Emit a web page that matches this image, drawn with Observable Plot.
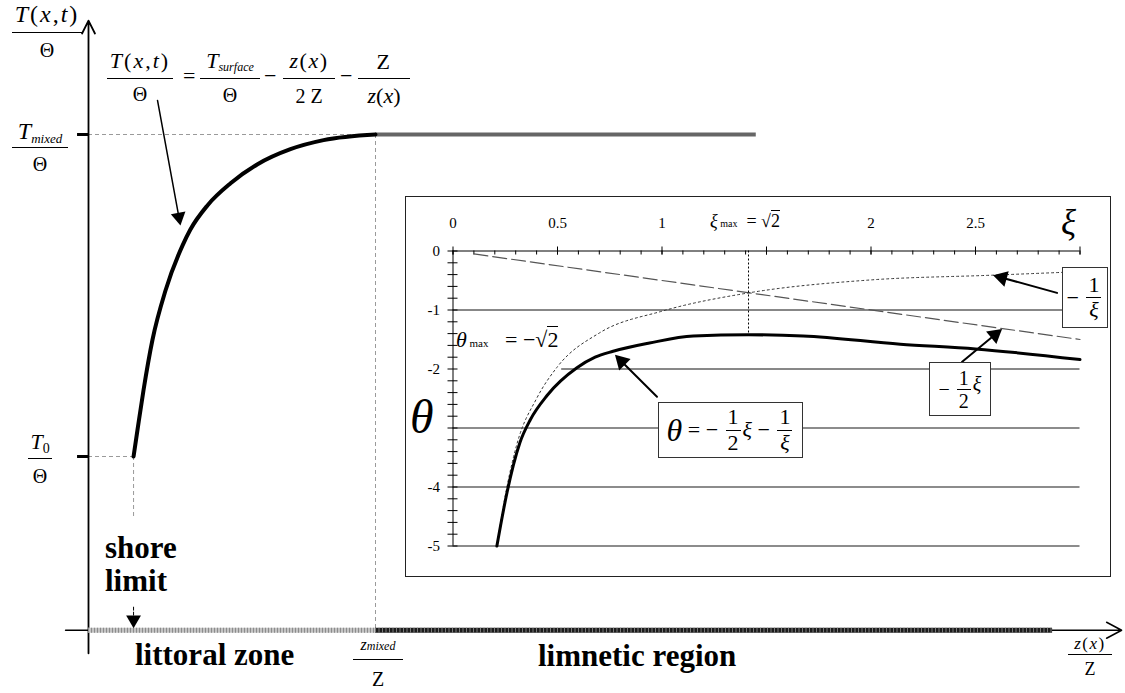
<!DOCTYPE html>
<html>
<head>
<meta charset="utf-8">
<script src="https://cdn.jsdelivr.net/npm/d3@7"></script>
<script src="https://cdn.jsdelivr.net/npm/@observablehq/plot@0.6"></script>
<style>
  html, body { margin: 0; background: #fff; }
  #fig { position: relative; width: 1125px; height: 693px; overflow: hidden;
         font-family: "Liberation Serif", "Times New Roman", serif; color: #000; background: #fff; }
  #fig svg { position: absolute; left: 0; top: 0; font-family: "Liberation Serif", serif; }
  .lab { position: absolute; white-space: nowrap; line-height: 1; }
  .bold { font-weight: bold; font-size: 31px; line-height: 31px; }
  .box { position: absolute; box-sizing: border-box; border: 1px solid #333; background: #fff;
         display: flex; align-items: center; justify-content: center; white-space: nowrap; }
  .if { display: inline-flex; flex-direction: column; align-items: center; vertical-align: middle;
        line-height: 1.1; margin: 0 2px; }
  .if > span:first-child { border-bottom: 1px solid #000; padding: 0 2px; }
  #inset { position: absolute; left: 405px; top: 196px; width: 706px; height: 381px;
           box-sizing: border-box; border: 1.5px solid #222; background: #fff; }
  sub { line-height: 0; }
</style>
</head>
<body>
<div id="fig"><div id="inset"></div></div>
<script>
// ---------- main diagram: temperature across the littoral zone ----------
// positions in ξ = z(x)/Z, temperatures in θ = T/Θ units
const profileXi    = [0.222, 0.241, 0.271, 0.315, 0.379, 0.463, 0.502, 0.586, 0.700, 0.833, 0.995, 1.158, 1.414];
const profileTheta = [-4.62, -4.36, -3.96, -3.46, -2.97, -2.52, -2.36, -2.12, -1.90, -1.71, -1.56, -1.47, -1.414];
const zMixed = 1.414;        // z_mixed / Z
const tMixed = -1.414;       // T_mixed / Θ
const tZero = -4.62;         // T_0 / Θ
const shoreXi = 0.222;       // shore limit
const floorTheta = -6.35;    // level of the z(x)/Z axis
const axisTopTheta = -0.28, axisBottomTheta = -6.58;
const axisLeftXi = -0.113, axisRightXi = 5.09;
const mixedLineEnd = 3.29;   // extent of the mixed-layer temperature
const limneticEnd = 4.75;    // extent of the limnetic band

// ---------- inset: θ(ξ) and its two components ----------
const xiLabels = [0, 0.5, 1, 2, 2.5];
const thetaLabels = [0, -1, -2, -4, -5];
const xiMax = 1.414;
const thetaMax = -1.414;
const curveXi    = [0.21, 0.258, 0.32, 0.37, 0.45, 0.593, 0.68, 0.766, 0.94, 1.15, 1.414, 1.675, 2.14, 2.5, 3.0];
const curveTheta = [-5.0, -4.10, -3.25, -2.86, -2.45, -1.98, -1.80, -1.70, -1.56, -1.44, -1.42, -1.44, -1.58, -1.66, -1.84];
const invXi      = [0.21, 0.258, 0.306, 0.4, 0.5, 0.70, 1.0, 1.414, 2.0, 2.58, 3.0];
const invTheta   = [-5.0, -4.00, -3.27, -2.5, -1.96, -1.39, -1.02, -0.71, -0.49, -0.41, -0.35];
const halfXi     = [0.1, 3.0];
const halfTheta  = [-0.05, -1.5];

const fig = document.getElementById("fig");
const zip = (xs, ys) => xs.map((x, i) => ({x, y: ys[i]}));
const serif = "Liberation Serif";

// line with a filled triangular head, end points in data units
function headed(from, to, sx, sy, {sw = 1.5, r = 5, dash = null} = {}) {
  const x1 = sx.apply(from[0]), y1 = sy.apply(from[1]);
  const x2 = sx.apply(to[0]), y2 = sy.apply(to[1]);
  const L = Math.hypot(x2 - x1, y2 - y1), ux = (x2 - x1) / L, uy = (y2 - y1) / L;
  const back = 1.555 * r;
  const rot = Math.atan2(ux, -uy) * 180 / Math.PI;
  const end = [sx.invert(x2 - ux * back), sy.invert(y2 - uy * back)];
  return [
    Plot.line([from, end], {x: d => d[0], y: d => d[1], stroke: "#000", strokeWidth: sw, strokeDasharray: dash}),
    Plot.dot([to], {x: d => d[0], y: d => d[1], symbol: "triangle", r, rotate: rot,
                    fill: "#000", stroke: "none", dx: -ux * back, dy: -uy * back})
  ];
}

// ---------- main plot ----------
const mainX = {domain: [0, zMixed], range: [88, 375]};
const mainY = {domain: [tMixed, tZero], range: [134, 456]};
const msx = Plot.scale({x: mainX}), msy = Plot.scale({y: mainY});
const guide = {stroke: "#9a9a9a", strokeWidth: 1, strokeDasharray: "4,3"};

const main = Plot.plot({
  width: 1125, height: 693, margin: 0,
  style: {background: "transparent", fontFamily: serif},
  x: {...mainX, axis: null},
  y: {...mainY, axis: null},
  marks: [
    Plot.ruleY([tMixed], {x1: 0, x2: zMixed, ...guide}),
    Plot.ruleY([tZero], {x1: 0, x2: shoreXi, ...guide}),
    Plot.ruleX([zMixed], {y1: tMixed, y2: floorTheta, ...guide}),
    Plot.ruleX([shoreXi], {y1: tZero, y2: -5.24, ...guide}),
    Plot.arrow([{}], {x1: 0, y1: axisBottomTheta, x2: 0, y2: axisTopTheta,
                      stroke: "#000", strokeWidth: 1.8, headLength: 12, headAngle: 53}),
    Plot.arrow([{}], {x1: axisLeftXi, y1: floorTheta, x2: axisRightXi, y2: floorTheta,
                      stroke: "#000", strokeWidth: 1.5, headLength: 17, headAngle: 56}),
    // littoral and limnetic bands along the axis
    Plot.ruleY([floorTheta], {x1: 0, x2: zMixed, stroke: "#c4c4c4", strokeWidth: 5}),
    Plot.ruleY([floorTheta], {x1: 0, x2: zMixed, stroke: "#8c8c8c", strokeWidth: 5, strokeDasharray: "1,2"}),
    Plot.ruleY([floorTheta], {x1: zMixed, x2: limneticEnd, stroke: "#1c1c1c", strokeWidth: 5}),
    Plot.ruleY([floorTheta], {x1: zMixed, x2: limneticEnd, stroke: "#7a7a7a", strokeWidth: 5, strokeDasharray: "1,2.5"}),
    Plot.ruleY([tMixed, tZero], {x1: -0.054, x2: 0, stroke: "#000", strokeWidth: 3}),
    Plot.ruleY([tMixed], {x1: zMixed, x2: mixedLineEnd, stroke: "#666", strokeWidth: 4}),
    Plot.line(zip(profileXi, profileTheta), {x: "x", y: "y", stroke: "#000", strokeWidth: 4, curve: "monotone-x"}),
    ...headed([0.34, -1.075], [0.453, -2.32], msx, msy, {sw: 1.5, r: 5.5}),
    ...headed([shoreXi, -6.12], [shoreXi, -6.33], msx, msy, {sw: 1, r: 5.5, dash: "3,2"})
  ]
});
fig.insertBefore(main, fig.firstChild);

// ---------- inset plot ----------
const W = 703, H = 378, ml = 46.5, mr = 29.5, mt = 53.5, mb = 29.5;
const insetX = {domain: [0, 3], range: [ml, W - mr]};
const insetY = {domain: [-5, 0], range: [H - mb, mt]};
const isx = Plot.scale({x: insetX}), isy = Plot.scale({y: insetY});
const xiMinor = d3.range(0, 30.5, 1).map(d => d / 10);
const xiMajor = d3.range(0, 6.5, 1).map(d => d / 2);
const thetaMinor = d3.range(0, 25.5, 1).map(d => -d / 5);

const inset = Plot.plot({
  width: W, height: H, marginLeft: ml, marginRight: mr, marginTop: mt, marginBottom: mb,
  style: {background: "transparent", fontFamily: serif, fontSize: "15px", color: "#000"},
  x: {...insetX, axis: null},
  y: {...insetY, axis: null},
  marks: [
    Plot.ruleY([-1], {x1: 0, x2: 3, stroke: "#111", strokeWidth: 1}),
    Plot.ruleY([-2], {x1: 0.52, x2: 3, stroke: "#111", strokeWidth: 1}),
    Plot.ruleY([-3, -4, -5], {x1: 0, x2: 3, stroke: "#666", strokeWidth: 1.3}),
    Plot.ruleY([0], {x1: 0, x2: 3, stroke: "#000", strokeWidth: 1}),
    Plot.ruleX([0], {y1: -5, y2: 0, stroke: "#000", strokeWidth: 1}),
    Plot.ruleX(xiMinor, {y1: 0, y2: 0, insetTop: 0, insetBottom: -4, stroke: "#000"}),
    Plot.ruleX(xiMajor, {y1: 0, y2: 0, insetTop: -4, insetBottom: -4, stroke: "#000"}),
    Plot.ruleY(thetaMinor, {x1: 0, x2: 0, insetLeft: -5, insetRight: -5, stroke: "#000"}),
    Plot.text(xiLabels, {x: d => d, y: 0, dy: -28, text: d => String(d), fontSize: 15,
                         fontFamily: serif, fill: "#000"}),
    Plot.text(thetaLabels, {x: 0, y: d => d, dx: -13, textAnchor: "end", text: d => String(d),
                            fontSize: 15, fontFamily: serif, fill: "#000"}),
    Plot.line(zip(halfXi, halfTheta), {x: "x", y: "y", stroke: "#555", strokeWidth: 1.2, strokeDasharray: "14,5"}),
    Plot.line(zip(invXi, invTheta), {x: "x", y: "y", stroke: "#333", strokeWidth: 1, strokeDasharray: "2,3", curve: "monotone-x"}),
    Plot.ruleX([xiMax], {y1: 0, y2: -1.39, stroke: "#000", strokeWidth: 1, strokeDasharray: "2,2"}),
    Plot.line(zip(curveXi, curveTheta), {x: "x", y: "y", stroke: "#000", strokeWidth: 3, curve: "monotone-x"}),
    ...headed([0.976, -2.47], [0.775, -1.76], isx, isy, {sw: 2, r: 6}),
    ...headed([2.89, -0.71], [2.584, -0.41], isx, isy, {sw: 2, r: 6}),
    ...headed([2.435, -1.88], [2.627, -1.32], isx, isy, {sw: 2, r: 6})
  ]
});
document.getElementById("inset").appendChild(inset);

// ---------- text ----------
function put(html, x, y, css = "", cls = "lab") {
  const d = document.createElement("div");
  d.className = cls;
  d.innerHTML = html;
  d.style.cssText = `left:${x}px;top:${y}px;${css}`;
  fig.appendChild(d);
  return d;
}
function fracAt(cx, barY, num, den, {fs = 22, dfs = 20, pb = 6, pt = 6, w = 60, nls = 0} = {}) {
  const html =
    `<div style="font-size:${fs}px;line-height:${fs}px;padding-bottom:${pb}px;border-bottom:1px solid #000;text-align:center;letter-spacing:${nls}px">${num}</div>` +
    `<div style="font-size:${dfs}px;line-height:${dfs}px;padding-top:${pt}px;text-align:center">${den}</div>`;
  return put(html, cx - w / 2, barY - fs - pb, `width:${w}px`);
}
const iFrac = (n, d) => `<span class="if"><span>${n}</span><span>${d}</span></span>`;
const zx = `<i>z</i>(<i>x</i>)`;
const Txt = `<i>T</i>(<i>x</i>,<i>t</i>)`;

// vertical axis title
fracAt(47, 32, Txt, "Θ", {fs: 24, dfs: 20, pb: 6.5, pt: 6.5, w: 70, nls: 2});

// profile equation
fracAt(140, 78, Txt, "Θ", {fs: 22, dfs: 20, pb: 6.2, pt: 5.5, w: 66, nls: 2});
put("=", 183, 65, "font-size:22px;line-height:22px");
fracAt(230, 78, `<i>T</i><sub style="font-size:12px;font-style:italic;vertical-align:-3px">surface</sub>`, "Θ",
       {fs: 22, dfs: 20, pb: 6.5, pt: 5.5, w: 60});
put("−", 264, 65, "font-size:22px;line-height:22px");
fracAt(309, 78, zx, "2 Z", {fs: 22, dfs: 20, pb: 6.2, pt: 7.5, w: 52, nls: 1.5});
put("−", 340, 65, "font-size:22px;line-height:22px");
fracAt(384, 78, "Z", zx, {fs: 22, dfs: 22, pb: 5, pt: 5.8, w: 52, nls: 1.5});

// levels on the vertical axis
fracAt(40, msy.apply(tMixed) + 13, `<i>T</i><sub style="font-size:13px;font-style:italic;vertical-align:-4px">mixed</sub>`, "Θ",
       {fs: 24, dfs: 20, pb: 4.2, pt: 6.5, w: 56});
fracAt(40, msy.apply(tZero) + 2, `<i>T</i><sub style="font-size:14px;vertical-align:-4px">0</sub>`, "Θ",
       {fs: 22, dfs: 20, pb: 4.8, pt: 7.5, w: 24});

// labels on the horizontal axis
fracAt(msx.apply(zMixed) + 3, 658, `<i>z</i><i style="font-size:12px">mixed</i>`, "Z",
       {fs: 16, dfs: 20, pb: 5.4, pt: 9.5, w: 50});
fracAt(1090, 654, zx, "Z", {fs: 17, dfs: 18, pb: 2.5, pt: 4.8, w: 44, nls: 1.5});

put("shore", 105, 532, "", "lab bold");
put("limit", 105, 565, "", "lab bold");
put("littoral zone", 135, 639, "", "lab bold");
put("limnetic region", 538, 640, "", "lab bold");

// inset labels
put("<i>θ</i>", 410, 393, "font-size:48px;line-height:48px");
put("<i>ξ</i>", 1061, 205, "font-size:35px;line-height:35px");
put(`<i>ξ</i><span style="font-size:10px"> max</span>&nbsp;&nbsp;=&nbsp;√<span style="border-top:1px solid #000">2</span>`,
    710, 212, "font-size:18px;line-height:18px");
put(`<i>θ</i><span style="font-size:11px"> max</span>&nbsp;&nbsp;&nbsp;=&nbsp;−√<span style="border-top:1px solid #000">2</span>`,
    456, 329, "font-size:22px;line-height:22px");

put(`<i style="font-size:32px">θ</i>&nbsp;=&nbsp;−&nbsp;${iFrac("1", "2")}<i>ξ</i>&nbsp;−&nbsp;${iFrac("1", "<i>ξ</i>")}`,
    658, 402, "width:145px;height:56px;font-size:22px", "box");
put(`−&nbsp;${iFrac("1", "<i>ξ</i>")}`, 1062, 267, "width:46px;height:61px;font-size:22px", "box");
put(`−&nbsp;${iFrac("1", "2")}<i style="position:relative;top:-5px">ξ</i>`, 929, 362, "width:62px;height:54px;font-size:20px", "box");
</script>
</body>
</html>
